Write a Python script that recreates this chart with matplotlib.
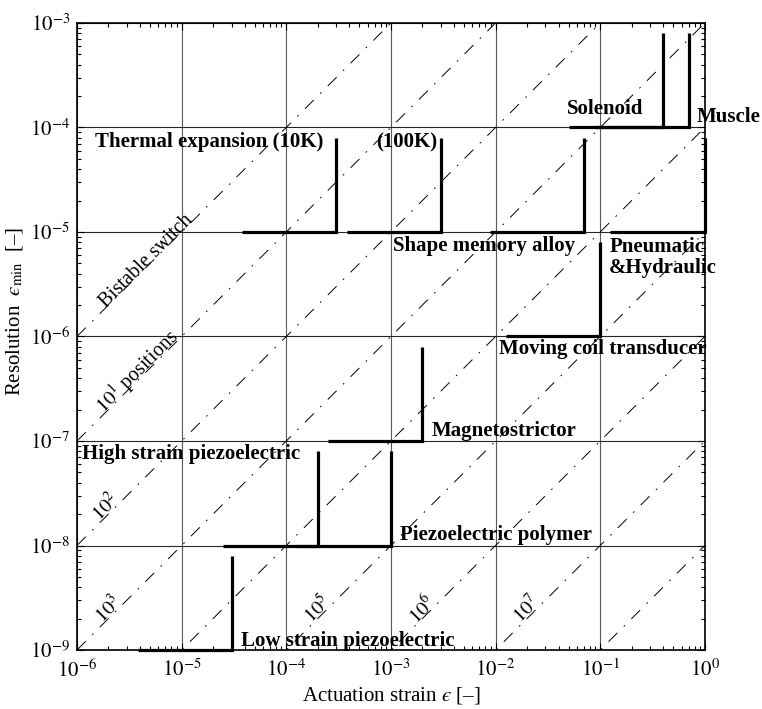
import matplotlib
matplotlib.use('Agg')
import matplotlib.pyplot as plt
from matplotlib.ticker import LogLocator, NullFormatter

plt.rcParams['font.family'] = 'serif'
plt.rcParams['font.serif'] = ['Liberation Serif', 'DejaVu Serif']
plt.rcParams['mathtext.fontset'] = 'stix'
plt.rcParams['lines.scale_dashes'] = False

# actuator ranges: horizontal from strain_lo to strain_hi at resolution,
# then vertical at strain_hi up to res_top
NAMES = ['Low strain piezoelectric', 'High strain piezoelectric',
         'Piezoelectric polymer', 'Magnetostrictor', 'Moving coil transducer',
         'Thermal expansion (10K)', '(100K)', 'Shape memory alloy',
         'Pneumatic\n&Hydraulic', 'Solenoid', 'Muscle']
STRAIN_LO = [3.8e-6, 2.5e-5, 1.25e-4, 2.5e-4, 1.25e-2, 3.8e-5, 3.8e-4, 8.8e-3, 1.25e-1, 5e-2, 8.8e-2]
STRAIN_HI = [3e-5, 2e-4, 1e-3, 2e-3, 1e-1, 3e-4, 3e-3, 7e-2, 1.0, 4e-1, 7e-1]
RES = [1e-9, 1e-8, 1e-8, 1e-7, 1e-6, 1e-5, 1e-5, 1e-5, 1e-5, 1e-4, 1e-4]
RES_TOP = [8e-9, 8e-8, 8e-8, 8e-7, 8e-6, 8e-5, 8e-5, 8e-5, 8e-5, 8e-4, 8e-4]

# label anchors (x, baseline of last line) and alignment
LAB_X = [3.66e-5, 1.11e-6, 1.22e-3, 2.45e-3, 1.08e-2, 1.5e-6, 2.8e-3, 1.04e-3, 0.122, 0.048, 0.83]
LAB_Y = [1.09e-9, 6.7e-8, 1.13e-8, 1.12e-7, 6.8e-7, 6.5e-5, 6.5e-5, 6.6e-6, 4.06e-6, 1.34e-4, 1.14e-4]
LAB_HA = ['left'] * 6 + ['right'] + ['left'] * 4

# constant number-of-positions lines: resolution = strain / ratio
RATIOS = [1e0, 1e1, 1e2, 1e3, 1e4, 1e5, 1e6, 1e7, 1e8]
DIAG_TEXT = ['Bistable switch', r'$10^1$ positions', r'$10^2$', r'$10^3$',
             r'$10^5$', r'$10^6$', r'$10^7$']
DIAG_RATIO = [1e0, 1e1, 1e2, 1e3, 1e5, 1e6, 1e7]
DIAG_X = [4.9e-6, 4.2e-6, 2.1e-6, 2.2e-6, 2.2e-4, 2.2e-3, 2.2e-2]

XLIM = (1e-6, 1e0)
YLIM = (1e-9, 1e-3)
X_TICKS = [1e-6, 1e-5, 1e-4, 1e-3, 1e-2, 1e-1, 1e0]
X_TICKLABELS = [r'$10^{-6}$', r'$10^{-5}$', r'$10^{-4}$', r'$10^{-3}$',
                r'$10^{-2}$', r'$10^{-1}$', r'$10^{0}$']
Y_TICKS = [1e-9, 1e-8, 1e-7, 1e-6, 1e-5, 1e-4, 1e-3]
Y_TICKLABELS = [r'$10^{-9}$', r'$10^{-8}$', r'$10^{-7}$', r'$10^{-6}$',
                r'$10^{-5}$', r'$10^{-4}$', r'$10^{-3}$']

fig = plt.figure(figsize=(7.62, 7.09), dpi=100)
ax = fig.add_axes([0.101, 0.0832, 0.824, 0.8844])
ax.set_xscale('log')
ax.set_yscale('log')

ax.grid(True, which='major', axis='y', color='0.15', lw=0.8, ls='-', zorder=1)
ax.grid(True, which='major', axis='x', color='0.35', lw=0.8, ls='-', zorder=1)
ax.set_axisbelow(True)

for r in RATIOS:
    ax.plot(XLIM, [XLIM[0] / r, XLIM[1] / r], color='black', lw=0.7,
            ls=(0, (9, 6.5, 1.2, 6.5)), zorder=2)

for txt, r, x in zip(DIAG_TEXT, DIAG_RATIO, DIAG_X):
    ax.text(x, x / r, txt, rotation=45, rotation_mode='anchor',
            ha='center', va='baseline', fontsize=14.5, zorder=3)

for lo, hi, res, top in zip(STRAIN_LO, STRAIN_HI, RES, RES_TOP):
    ax.plot([lo, hi, hi], [res, res, top], color='black', lw=2.3,
            solid_joinstyle='miter', solid_capstyle='butt', clip_on=False,
            zorder=4)

for name, x, y, ha in zip(NAMES, LAB_X, LAB_Y, LAB_HA):
    ax.text(x, y, name, ha=ha, va='baseline', fontsize=15,
            fontweight='bold', linespacing=1.05, zorder=5)

ax.set_xticks(X_TICKS, X_TICKLABELS)
ax.set_yticks(Y_TICKS, Y_TICKLABELS)
ax.set_xlim(*XLIM)
ax.set_ylim(*YLIM)
ax.xaxis.set_minor_locator(LogLocator(base=10, subs=range(2, 10), numticks=20))
ax.yaxis.set_minor_locator(LogLocator(base=10, subs=range(2, 10), numticks=20))
ax.xaxis.set_minor_formatter(NullFormatter())
ax.yaxis.set_minor_formatter(NullFormatter())
ax.tick_params(which='both', direction='in', top=True, right=True)
ax.tick_params(which='major', length=5, width=0.8, labelsize=15)
ax.tick_params(axis='x', which='major', pad=7)
ax.tick_params(axis='y', which='major', pad=5)
ax.tick_params(which='minor', length=3, width=0.8)
for s in ax.spines.values():
    s.set_linewidth(1.2)

ax.set_xlabel('Actuation strain $\u03f5$ [–]', fontsize=15, labelpad=2)
ax.set_ylabel('Resolution  $\u03f5_{\\rm min}$  [–]', fontsize=15)
ax.yaxis.set_label_coords(-0.083, 0.54)

fig.savefig('out.png', dpi=100, facecolor='white')
